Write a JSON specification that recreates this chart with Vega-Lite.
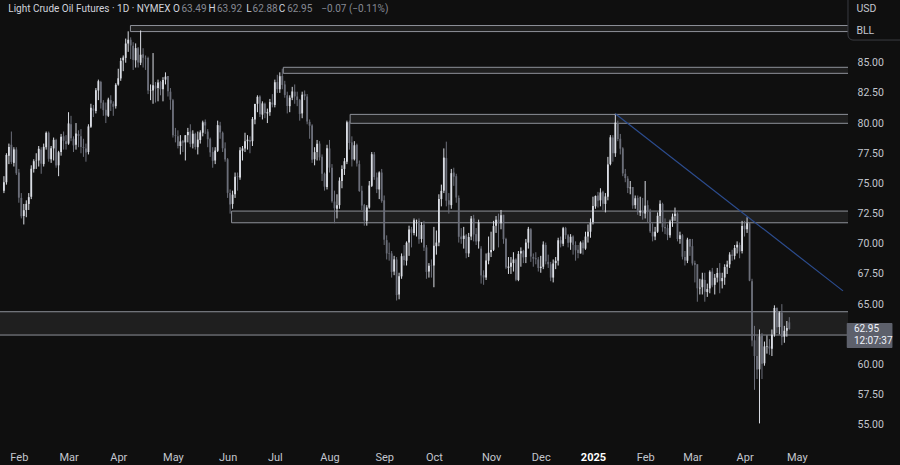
{
"$schema": "https://vega.github.io/schema/vega-lite/v6.json",
"width": 848, "height": 440,
"autosize": {"type": "none"},
"padding": {"left": 0, "top": 0, "right": 52, "bottom": 25},
"background": "#0f0f0f",
"config": {"view": {"stroke": null}, "axis": {"grid": false, "domain": false, "ticks": false, "labelFont": "Roboto", "labelFontSize": 10.5, "labelColor": "#c3c6ce", "labelOverlap": false}},
"datasets": {
"bars": [
{"d":"2024-01-24","o":74.4,"h":75.6,"l":74.2,"c":75.09},
{"d":"2024-01-25","o":75.1,"h":77.5,"l":74.9,"c":77.36},
{"d":"2024-01-26","o":77.3,"h":78.3,"l":76.6,"c":78.01},
{"d":"2024-01-29","o":78.2,"h":79.3,"l":76.6,"c":76.78},
{"d":"2024-01-30","o":76.7,"h":78.0,"l":76.4,"c":77.82},
{"d":"2024-01-31","o":77.8,"h":78.0,"l":75.7,"c":75.85},
{"d":"2024-02-01","o":75.9,"h":76.2,"l":73.4,"c":73.82},
{"d":"2024-02-02","o":73.8,"h":74.2,"l":72.1,"c":72.28},
{"d":"2024-02-05","o":72.3,"h":73.3,"l":71.6,"c":72.78},
{"d":"2024-02-06","o":72.8,"h":73.6,"l":72.2,"c":73.31},
{"d":"2024-02-07","o":73.3,"h":74.2,"l":72.8,"c":73.86},
{"d":"2024-02-08","o":73.9,"h":76.5,"l":73.7,"c":76.22},
{"d":"2024-02-09","o":76.2,"h":77.0,"l":75.9,"c":76.84},
{"d":"2024-02-12","o":76.9,"h":77.5,"l":76.2,"c":76.92},
{"d":"2024-02-13","o":76.9,"h":78.1,"l":76.4,"c":77.87},
{"d":"2024-02-14","o":77.8,"h":78.0,"l":75.8,"c":76.64},
{"d":"2024-02-15","o":76.6,"h":78.3,"l":76.4,"c":78.03},
{"d":"2024-02-16","o":78.0,"h":79.3,"l":77.8,"c":79.19},
{"d":"2024-02-20","o":79.2,"h":79.3,"l":76.8,"c":77.04},
{"d":"2024-02-21","o":77.0,"h":78.1,"l":76.7,"c":77.91},
{"d":"2024-02-22","o":77.9,"h":78.8,"l":76.9,"c":78.61},
{"d":"2024-02-23","o":78.6,"h":78.7,"l":76.3,"c":76.49},
{"d":"2024-02-26","o":76.5,"h":77.7,"l":75.6,"c":77.58},
{"d":"2024-02-27","o":77.6,"h":79.1,"l":77.3,"c":78.87},
{"d":"2024-02-28","o":78.9,"h":79.3,"l":77.8,"c":78.54},
{"d":"2024-02-29","o":78.5,"h":79.0,"l":77.8,"c":78.26},
{"d":"2024-03-01","o":78.3,"h":80.9,"l":78.2,"c":79.97},
{"d":"2024-03-04","o":79.9,"h":80.6,"l":78.5,"c":78.74},
{"d":"2024-03-05","o":78.7,"h":78.9,"l":77.6,"c":78.15},
{"d":"2024-03-06","o":78.2,"h":80.0,"l":77.8,"c":79.13},
{"d":"2024-03-07","o":79.1,"h":79.4,"l":78.0,"c":78.93},
{"d":"2024-03-08","o":78.9,"h":79.5,"l":77.5,"c":78.01},
{"d":"2024-03-11","o":78.0,"h":78.7,"l":77.2,"c":77.93},
{"d":"2024-03-12","o":77.9,"h":78.3,"l":76.8,"c":77.56},
{"d":"2024-03-13","o":77.6,"h":79.9,"l":77.4,"c":79.72},
{"d":"2024-03-14","o":79.7,"h":81.6,"l":79.6,"c":81.26},
{"d":"2024-03-15","o":81.2,"h":81.5,"l":80.5,"c":81.04},
{"d":"2024-03-18","o":81.0,"h":82.9,"l":80.8,"c":82.72},
{"d":"2024-03-19","o":82.7,"h":83.6,"l":81.9,"c":83.47},
{"d":"2024-03-20","o":83.4,"h":83.5,"l":81.2,"c":81.68},
{"d":"2024-03-21","o":81.7,"h":81.9,"l":80.6,"c":81.07},
{"d":"2024-03-22","o":81.1,"h":81.7,"l":80.0,"c":80.63},
{"d":"2024-03-25","o":80.6,"h":82.1,"l":80.5,"c":81.95},
{"d":"2024-03-26","o":81.9,"h":82.3,"l":81.0,"c":81.62},
{"d":"2024-03-27","o":81.6,"h":81.8,"l":80.6,"c":81.35},
{"d":"2024-03-28","o":81.4,"h":83.3,"l":81.2,"c":83.17},
{"d":"2024-04-01","o":83.2,"h":84.5,"l":83.1,"c":83.71},
{"d":"2024-04-02","o":83.7,"h":85.4,"l":83.5,"c":85.15},
{"d":"2024-04-03","o":85.2,"h":85.6,"l":84.3,"c":85.43},
{"d":"2024-04-04","o":85.4,"h":87.0,"l":85.0,"c":86.59},
{"d":"2024-04-05","o":86.6,"h":87.6,"l":85.9,"c":86.91},
{"d":"2024-04-08","o":86.9,"h":87.1,"l":85.3,"c":86.43},
{"d":"2024-04-09","o":86.4,"h":86.7,"l":84.4,"c":85.23},
{"d":"2024-04-10","o":85.2,"h":86.6,"l":84.6,"c":86.21},
{"d":"2024-04-11","o":86.2,"h":86.3,"l":84.6,"c":85.02},
{"d":"2024-04-12","o":85.0,"h":87.67,"l":84.8,"c":85.66},
{"d":"2024-04-15","o":85.7,"h":86.2,"l":84.6,"c":85.41},
{"d":"2024-04-16","o":85.4,"h":85.6,"l":84.4,"c":85.36},
{"d":"2024-04-17","o":85.4,"h":85.5,"l":82.4,"c":82.69},
{"d":"2024-04-18","o":82.7,"h":83.2,"l":81.9,"c":82.73},
{"d":"2024-04-19","o":82.7,"h":85.8,"l":81.6,"c":83.14},
{"d":"2024-04-22","o":83.1,"h":83.4,"l":81.7,"c":82.85},
{"d":"2024-04-23","o":82.9,"h":83.6,"l":81.8,"c":83.36},
{"d":"2024-04-24","o":83.4,"h":83.5,"l":82.3,"c":82.81},
{"d":"2024-04-25","o":82.8,"h":83.8,"l":81.8,"c":83.57},
{"d":"2024-04-26","o":83.6,"h":84.2,"l":83.2,"c":83.85},
{"d":"2024-04-29","o":83.9,"h":83.9,"l":82.2,"c":82.63},
{"d":"2024-04-30","o":82.6,"h":82.9,"l":81.1,"c":81.93},
{"d":"2024-05-01","o":81.9,"h":82.0,"l":78.8,"c":79.00},
{"d":"2024-05-02","o":79.0,"h":79.6,"l":78.4,"c":78.95},
{"d":"2024-05-03","o":78.9,"h":79.4,"l":77.9,"c":78.11},
{"d":"2024-05-06","o":78.1,"h":79.0,"l":77.4,"c":78.48},
{"d":"2024-05-07","o":78.5,"h":78.6,"l":77.6,"c":78.38},
{"d":"2024-05-08","o":78.4,"h":79.0,"l":76.9,"c":78.99},
{"d":"2024-05-09","o":79.0,"h":79.6,"l":78.4,"c":79.26},
{"d":"2024-05-10","o":79.3,"h":79.9,"l":78.0,"c":78.26},
{"d":"2024-05-13","o":78.3,"h":79.4,"l":77.9,"c":79.12},
{"d":"2024-05-14","o":79.1,"h":79.2,"l":77.8,"c":78.02},
{"d":"2024-05-15","o":78.0,"h":79.3,"l":77.4,"c":78.63},
{"d":"2024-05-16","o":78.6,"h":79.4,"l":78.3,"c":79.23},
{"d":"2024-05-17","o":79.2,"h":80.2,"l":78.9,"c":80.06},
{"d":"2024-05-20","o":80.1,"h":80.3,"l":79.1,"c":79.80},
{"d":"2024-05-21","o":79.3,"h":79.5,"l":78.0,"c":78.66},
{"d":"2024-05-22","o":78.7,"h":78.8,"l":77.2,"c":77.57},
{"d":"2024-05-23","o":77.6,"h":78.0,"l":76.3,"c":76.87},
{"d":"2024-05-24","o":76.9,"h":78.0,"l":76.6,"c":77.72},
{"d":"2024-05-28","o":77.7,"h":80.2,"l":77.6,"c":79.83},
{"d":"2024-05-29","o":79.8,"h":80.1,"l":78.7,"c":79.23},
{"d":"2024-05-30","o":79.2,"h":79.3,"l":77.6,"c":77.91},
{"d":"2024-05-31","o":77.9,"h":78.4,"l":76.8,"c":76.99},
{"d":"2024-06-03","o":77.0,"h":77.1,"l":73.8,"c":74.22},
{"d":"2024-06-04","o":74.2,"h":74.5,"l":72.5,"c":73.25},
{"d":"2024-06-05","o":73.3,"h":74.4,"l":72.9,"c":74.07},
{"d":"2024-06-06","o":74.1,"h":75.9,"l":73.8,"c":75.55},
{"d":"2024-06-07","o":75.6,"h":75.9,"l":74.4,"c":75.53},
{"d":"2024-06-10","o":75.5,"h":78.0,"l":75.3,"c":77.74},
{"d":"2024-06-11","o":77.7,"h":78.1,"l":76.9,"c":77.90},
{"d":"2024-06-12","o":77.9,"h":79.2,"l":77.6,"c":78.50},
{"d":"2024-06-13","o":78.5,"h":79.0,"l":77.8,"c":78.62},
{"d":"2024-06-14","o":78.6,"h":78.9,"l":77.5,"c":78.45},
{"d":"2024-06-17","o":78.5,"h":80.5,"l":78.1,"c":80.33},
{"d":"2024-06-18","o":80.3,"h":81.6,"l":79.9,"c":81.57},
{"d":"2024-06-20","o":81.6,"h":82.3,"l":80.9,"c":82.17},
{"d":"2024-06-21","o":82.2,"h":82.3,"l":80.5,"c":80.73},
{"d":"2024-06-24","o":80.7,"h":81.8,"l":80.3,"c":81.63},
{"d":"2024-06-25","o":81.6,"h":81.7,"l":80.4,"c":80.83},
{"d":"2024-06-26","o":80.8,"h":81.2,"l":80.0,"c":80.90},
{"d":"2024-06-27","o":80.9,"h":82.0,"l":80.6,"c":81.74},
{"d":"2024-06-28","o":81.7,"h":82.4,"l":81.3,"c":81.54},
{"d":"2024-07-01","o":81.5,"h":83.6,"l":81.3,"c":83.38},
{"d":"2024-07-02","o":83.4,"h":84.0,"l":82.5,"c":82.81},
{"d":"2024-07-03","o":82.8,"h":84.2,"l":82.5,"c":83.88},
{"d":"2024-07-05","o":83.9,"h":84.5,"l":82.8,"c":83.16},
{"d":"2024-07-08","o":83.2,"h":83.5,"l":82.1,"c":82.33},
{"d":"2024-07-09","o":82.3,"h":82.6,"l":80.8,"c":81.41},
{"d":"2024-07-10","o":81.4,"h":82.3,"l":80.9,"c":82.10},
{"d":"2024-07-11","o":82.1,"h":83.0,"l":81.9,"c":82.62},
{"d":"2024-07-12","o":82.6,"h":83.2,"l":81.6,"c":82.21},
{"d":"2024-07-15","o":82.2,"h":82.6,"l":81.4,"c":81.91},
{"d":"2024-07-16","o":81.9,"h":82.0,"l":80.2,"c":80.76},
{"d":"2024-07-17","o":80.8,"h":82.6,"l":80.4,"c":82.35},
{"d":"2024-07-18","o":82.4,"h":82.7,"l":81.9,"c":82.22},
{"d":"2024-07-19","o":82.2,"h":82.4,"l":79.9,"c":80.13},
{"d":"2024-07-22","o":80.1,"h":80.3,"l":78.7,"c":79.78},
{"d":"2024-07-23","o":79.8,"h":79.9,"l":76.7,"c":76.96},
{"d":"2024-07-24","o":77.0,"h":78.0,"l":76.5,"c":77.59},
{"d":"2024-07-25","o":77.6,"h":78.6,"l":76.9,"c":78.28},
{"d":"2024-07-26","o":78.3,"h":78.5,"l":76.9,"c":77.16},
{"d":"2024-07-29","o":77.2,"h":77.4,"l":75.2,"c":75.81},
{"d":"2024-07-30","o":75.8,"h":75.9,"l":74.4,"c":74.73},
{"d":"2024-07-31","o":74.7,"h":78.2,"l":74.5,"c":77.91},
{"d":"2024-08-01","o":77.9,"h":78.6,"l":75.9,"c":76.31},
{"d":"2024-08-02","o":76.3,"h":76.6,"l":73.4,"c":73.52},
{"d":"2024-08-05","o":73.5,"h":74.4,"l":71.7,"c":72.94},
{"d":"2024-08-06","o":72.9,"h":74.1,"l":72.1,"c":73.20},
{"d":"2024-08-07","o":73.2,"h":75.5,"l":72.9,"c":75.23},
{"d":"2024-08-08","o":75.2,"h":76.5,"l":74.6,"c":76.19},
{"d":"2024-08-09","o":76.2,"h":77.1,"l":75.7,"c":76.84},
{"d":"2024-08-12","o":76.8,"h":80.2,"l":76.6,"c":80.06},
{"d":"2024-08-13","o":80.1,"h":80.2,"l":77.8,"c":78.35},
{"d":"2024-08-14","o":78.4,"h":78.9,"l":76.4,"c":76.98},
{"d":"2024-08-15","o":77.0,"h":78.5,"l":76.9,"c":78.16},
{"d":"2024-08-16","o":78.2,"h":78.3,"l":76.4,"c":76.65},
{"d":"2024-08-19","o":76.6,"h":76.9,"l":74.3,"c":74.37},
{"d":"2024-08-20","o":74.4,"h":74.8,"l":72.8,"c":73.17},
{"d":"2024-08-21","o":73.2,"h":73.3,"l":71.5,"c":71.93},
{"d":"2024-08-22","o":71.9,"h":73.2,"l":71.5,"c":73.01},
{"d":"2024-08-23","o":73.0,"h":75.2,"l":72.9,"c":74.83},
{"d":"2024-08-26","o":74.8,"h":77.6,"l":74.7,"c":77.42},
{"d":"2024-08-27","o":77.4,"h":77.6,"l":75.3,"c":75.53},
{"d":"2024-08-28","o":75.5,"h":75.9,"l":74.2,"c":74.52},
{"d":"2024-08-29","o":74.5,"h":76.0,"l":73.7,"c":75.91},
{"d":"2024-08-30","o":75.9,"h":76.2,"l":73.4,"c":73.55},
{"d":"2024-09-03","o":73.6,"h":74.0,"l":69.9,"c":70.34},
{"d":"2024-09-04","o":70.3,"h":70.7,"l":68.7,"c":69.20},
{"d":"2024-09-05","o":69.2,"h":70.1,"l":68.6,"c":69.15},
{"d":"2024-09-06","o":69.2,"h":69.4,"l":67.2,"c":67.67},
{"d":"2024-09-09","o":67.7,"h":69.0,"l":67.4,"c":68.71},
{"d":"2024-09-10","o":68.7,"h":68.9,"l":65.3,"c":65.75},
{"d":"2024-09-11","o":65.8,"h":67.6,"l":65.4,"c":67.31},
{"d":"2024-09-12","o":67.3,"h":69.2,"l":67.1,"c":68.97},
{"d":"2024-09-13","o":69.0,"h":69.9,"l":68.2,"c":68.65},
{"d":"2024-09-16","o":68.6,"h":70.2,"l":68.2,"c":70.09},
{"d":"2024-09-17","o":70.1,"h":71.5,"l":69.0,"c":71.19},
{"d":"2024-09-18","o":71.2,"h":71.4,"l":69.7,"c":70.91},
{"d":"2024-09-19","o":70.9,"h":72.1,"l":70.7,"c":71.95},
{"d":"2024-09-20","o":71.9,"h":72.0,"l":70.6,"c":71.92},
{"d":"2024-09-23","o":71.9,"h":72.1,"l":70.0,"c":70.37},
{"d":"2024-09-24","o":70.4,"h":71.8,"l":70.1,"c":71.56},
{"d":"2024-09-25","o":71.6,"h":71.9,"l":69.4,"c":69.69},
{"d":"2024-09-26","o":69.7,"h":69.9,"l":67.1,"c":67.67},
{"d":"2024-09-27","o":67.7,"h":68.4,"l":67.2,"c":68.18},
{"d":"2024-09-30","o":68.2,"h":68.7,"l":67.2,"c":68.17},
{"d":"2024-10-01","o":68.2,"h":71.4,"l":66.4,"c":69.83},
{"d":"2024-10-02","o":69.8,"h":71.1,"l":69.1,"c":70.10},
{"d":"2024-10-03","o":70.1,"h":74.1,"l":69.8,"c":73.71},
{"d":"2024-10-04","o":73.7,"h":74.9,"l":73.1,"c":74.38},
{"d":"2024-10-07","o":74.4,"h":77.9,"l":74.2,"c":77.14},
{"d":"2024-10-08","o":77.1,"h":78.46,"l":73.1,"c":73.57},
{"d":"2024-10-09","o":73.6,"h":74.2,"l":72.5,"c":73.24},
{"d":"2024-10-10","o":73.2,"h":76.2,"l":72.9,"c":75.85},
{"d":"2024-10-11","o":75.9,"h":76.3,"l":74.8,"c":75.56},
{"d":"2024-10-14","o":75.6,"h":75.8,"l":73.4,"c":73.83},
{"d":"2024-10-15","o":73.8,"h":74.0,"l":70.1,"c":70.58},
{"d":"2024-10-16","o":70.6,"h":71.3,"l":70.0,"c":70.39},
{"d":"2024-10-17","o":70.4,"h":71.4,"l":69.6,"c":70.67},
{"d":"2024-10-18","o":70.7,"h":70.8,"l":68.8,"c":69.22},
{"d":"2024-10-21","o":69.2,"h":70.9,"l":68.9,"c":70.56},
{"d":"2024-10-22","o":70.6,"h":72.3,"l":70.3,"c":72.09},
{"d":"2024-10-23","o":72.1,"h":72.4,"l":70.2,"c":70.77},
{"d":"2024-10-24","o":70.8,"h":71.3,"l":69.9,"c":70.19},
{"d":"2024-10-25","o":70.2,"h":72.0,"l":69.6,"c":71.78},
{"d":"2024-10-28","o":69.6,"h":69.8,"l":66.7,"c":67.38},
{"d":"2024-10-29","o":67.4,"h":67.8,"l":66.6,"c":67.21},
{"d":"2024-10-30","o":67.2,"h":69.2,"l":67.0,"c":68.61},
{"d":"2024-10-31","o":68.6,"h":70.6,"l":68.3,"c":69.26},
{"d":"2024-11-01","o":69.3,"h":71.0,"l":68.9,"c":69.49},
{"d":"2024-11-04","o":69.5,"h":71.9,"l":69.4,"c":71.47},
{"d":"2024-11-05","o":71.5,"h":72.3,"l":70.9,"c":71.99},
{"d":"2024-11-06","o":72.0,"h":72.5,"l":69.7,"c":71.69},
{"d":"2024-11-07","o":71.7,"h":72.8,"l":71.2,"c":72.36},
{"d":"2024-11-08","o":72.4,"h":72.4,"l":70.0,"c":70.38},
{"d":"2024-11-11","o":70.4,"h":70.5,"l":67.9,"c":68.04},
{"d":"2024-11-12","o":68.0,"h":68.9,"l":67.5,"c":68.12},
{"d":"2024-11-13","o":68.1,"h":68.9,"l":67.5,"c":68.43},
{"d":"2024-11-14","o":68.4,"h":69.3,"l":67.7,"c":68.70},
{"d":"2024-11-15","o":68.7,"h":68.8,"l":66.9,"c":67.02},
{"d":"2024-11-18","o":67.0,"h":69.4,"l":66.9,"c":69.16},
{"d":"2024-11-19","o":69.2,"h":69.7,"l":68.1,"c":69.39},
{"d":"2024-11-20","o":69.4,"h":69.5,"l":68.4,"c":68.87},
{"d":"2024-11-21","o":68.9,"h":70.4,"l":68.4,"c":70.10},
{"d":"2024-11-22","o":70.1,"h":71.4,"l":69.6,"c":71.24},
{"d":"2024-11-25","o":71.2,"h":71.3,"l":68.5,"c":68.94},
{"d":"2024-11-26","o":68.9,"h":69.2,"l":68.1,"c":68.77},
{"d":"2024-11-27","o":68.8,"h":69.3,"l":68.3,"c":68.72},
{"d":"2024-11-29","o":68.7,"h":68.9,"l":67.7,"c":68.00},
{"d":"2024-12-02","o":68.0,"h":69.0,"l":67.6,"c":68.10},
{"d":"2024-12-03","o":68.1,"h":70.2,"l":67.9,"c":69.94},
{"d":"2024-12-04","o":69.9,"h":70.1,"l":68.3,"c":68.54},
{"d":"2024-12-05","o":68.5,"h":69.1,"l":68.0,"c":68.30},
{"d":"2024-12-06","o":68.3,"h":68.5,"l":66.9,"c":67.20},
{"d":"2024-12-09","o":67.2,"h":68.7,"l":66.8,"c":68.37},
{"d":"2024-12-10","o":68.4,"h":68.9,"l":67.9,"c":68.59},
{"d":"2024-12-11","o":68.6,"h":70.5,"l":68.2,"c":70.29},
{"d":"2024-12-12","o":70.3,"h":70.6,"l":69.7,"c":70.02},
{"d":"2024-12-13","o":70.0,"h":71.4,"l":69.8,"c":71.29},
{"d":"2024-12-16","o":71.3,"h":71.4,"l":70.4,"c":70.71},
{"d":"2024-12-17","o":70.7,"h":70.8,"l":69.7,"c":70.08},
{"d":"2024-12-18","o":70.1,"h":70.8,"l":69.5,"c":70.58},
{"d":"2024-12-19","o":70.6,"h":70.7,"l":69.1,"c":69.91},
{"d":"2024-12-20","o":69.9,"h":70.2,"l":68.6,"c":69.46},
{"d":"2024-12-23","o":69.5,"h":69.9,"l":68.8,"c":69.24},
{"d":"2024-12-24","o":69.2,"h":70.2,"l":69.2,"c":70.10},
{"d":"2024-12-26","o":70.1,"h":70.3,"l":69.1,"c":69.62},
{"d":"2024-12-27","o":69.6,"h":71.0,"l":69.5,"c":70.60},
{"d":"2024-12-30","o":70.6,"h":71.6,"l":70.1,"c":70.99},
{"d":"2024-12-31","o":71.0,"h":72.1,"l":70.5,"c":71.72},
{"d":"2025-01-02","o":71.8,"h":73.9,"l":71.6,"c":73.13},
{"d":"2025-01-03","o":73.1,"h":74.0,"l":72.9,"c":73.96},
{"d":"2025-01-06","o":74.0,"h":74.3,"l":73.0,"c":73.56},
{"d":"2025-01-07","o":73.6,"h":74.6,"l":73.1,"c":74.25},
{"d":"2025-01-08","o":74.3,"h":74.4,"l":72.8,"c":73.32},
{"d":"2025-01-09","o":73.3,"h":74.2,"l":72.6,"c":73.92},
{"d":"2025-01-10","o":73.9,"h":77.2,"l":73.6,"c":76.57},
{"d":"2025-01-13","o":76.6,"h":79.0,"l":76.5,"c":78.82},
{"d":"2025-01-14","o":78.8,"h":79.0,"l":76.8,"c":77.50},
{"d":"2025-01-15","o":77.5,"h":80.77,"l":77.2,"c":80.04},
{"d":"2025-01-16","o":80.0,"h":80.2,"l":78.5,"c":78.68},
{"d":"2025-01-17","o":78.7,"h":79.1,"l":77.4,"c":77.88},
{"d":"2025-01-21","o":77.9,"h":78.0,"l":75.6,"c":75.83},
{"d":"2025-01-22","o":75.8,"h":76.2,"l":75.1,"c":75.44},
{"d":"2025-01-23","o":75.4,"h":75.6,"l":74.2,"c":74.62},
{"d":"2025-01-24","o":74.6,"h":75.2,"l":74.1,"c":74.66},
{"d":"2025-01-27","o":74.7,"h":74.7,"l":72.9,"c":73.17},
{"d":"2025-01-28","o":73.2,"h":74.0,"l":72.9,"c":73.77},
{"d":"2025-01-29","o":73.8,"h":74.0,"l":72.4,"c":72.62},
{"d":"2025-01-30","o":72.6,"h":73.9,"l":72.3,"c":72.73},
{"d":"2025-01-31","o":72.7,"h":73.8,"l":72.0,"c":72.53},
{"d":"2025-02-03","o":72.5,"h":75.2,"l":72.1,"c":73.16},
{"d":"2025-02-04","o":73.2,"h":73.6,"l":71.8,"c":72.70},
{"d":"2025-02-05","o":72.7,"h":72.9,"l":70.9,"c":71.03},
{"d":"2025-02-06","o":71.0,"h":71.7,"l":70.2,"c":70.61},
{"d":"2025-02-07","o":70.6,"h":71.4,"l":70.3,"c":71.00},
{"d":"2025-02-10","o":71.0,"h":72.6,"l":70.9,"c":72.32},
{"d":"2025-02-11","o":72.3,"h":73.6,"l":71.7,"c":73.32},
{"d":"2025-02-12","o":73.3,"h":73.4,"l":71.0,"c":71.37},
{"d":"2025-02-13","o":71.4,"h":72.1,"l":70.8,"c":71.29},
{"d":"2025-02-14","o":71.3,"h":71.6,"l":70.3,"c":70.74},
{"d":"2025-02-18","o":70.7,"h":72.0,"l":70.5,"c":71.85},
{"d":"2025-02-19","o":71.9,"h":72.5,"l":71.4,"c":72.25},
{"d":"2025-02-20","o":72.3,"h":73.0,"l":71.9,"c":72.48},
{"d":"2025-02-21","o":72.5,"h":72.6,"l":70.2,"c":70.40},
{"d":"2025-02-24","o":70.4,"h":71.0,"l":70.0,"c":70.70},
{"d":"2025-02-25","o":70.7,"h":70.8,"l":68.7,"c":68.93},
{"d":"2025-02-26","o":68.9,"h":69.4,"l":68.2,"c":68.62},
{"d":"2025-02-27","o":68.6,"h":70.5,"l":68.4,"c":70.35},
{"d":"2025-02-28","o":70.4,"h":70.4,"l":69.0,"c":69.76},
{"d":"2025-03-03","o":69.8,"h":70.4,"l":68.2,"c":68.37},
{"d":"2025-03-04","o":68.4,"h":68.6,"l":66.8,"c":68.26},
{"d":"2025-03-05","o":68.3,"h":68.3,"l":65.2,"c":66.31},
{"d":"2025-03-06","o":66.3,"h":67.1,"l":65.8,"c":66.36},
{"d":"2025-03-07","o":66.4,"h":67.6,"l":65.8,"c":67.04},
{"d":"2025-03-10","o":67.0,"h":67.6,"l":65.2,"c":66.03},
{"d":"2025-03-11","o":66.0,"h":66.7,"l":65.6,"c":66.25},
{"d":"2025-03-12","o":66.3,"h":67.8,"l":65.9,"c":67.68},
{"d":"2025-03-13","o":67.7,"h":68.0,"l":66.4,"c":66.55},
{"d":"2025-03-14","o":66.6,"h":67.5,"l":65.8,"c":67.18},
{"d":"2025-03-17","o":67.2,"h":68.0,"l":66.8,"c":67.58},
{"d":"2025-03-18","o":67.6,"h":68.4,"l":65.9,"c":66.90},
{"d":"2025-03-19","o":66.9,"h":67.6,"l":66.3,"c":67.16},
{"d":"2025-03-20","o":67.2,"h":68.3,"l":66.6,"c":68.07},
{"d":"2025-03-21","o":68.1,"h":68.6,"l":67.5,"c":68.28},
{"d":"2025-03-24","o":68.3,"h":69.3,"l":68.0,"c":69.11},
{"d":"2025-03-25","o":69.1,"h":69.5,"l":68.6,"c":69.00},
{"d":"2025-03-26","o":69.0,"h":69.9,"l":68.7,"c":69.65},
{"d":"2025-03-27","o":69.7,"h":70.2,"l":69.2,"c":69.92},
{"d":"2025-03-28","o":69.9,"h":70.1,"l":68.8,"c":69.36},
{"d":"2025-03-31","o":69.4,"h":71.9,"l":69.2,"c":71.48},
{"d":"2025-04-01","o":71.5,"h":71.9,"l":70.6,"c":71.20},
{"d":"2025-04-02","o":71.2,"h":72.2,"l":70.9,"c":71.71},
{"d":"2025-04-03","o":71.7,"h":71.8,"l":66.9,"c":66.95},
{"d":"2025-04-04","o":66.9,"h":67.1,"l":61.5,"c":61.99},
{"d":"2025-04-07","o":62.0,"h":63.2,"l":57.9,"c":60.70},
{"d":"2025-04-08","o":60.7,"h":62.4,"l":58.8,"c":59.58},
{"d":"2025-04-09","o":59.6,"h":62.9,"l":55.12,"c":62.35},
{"d":"2025-04-10","o":62.4,"h":62.6,"l":58.8,"c":60.07},
{"d":"2025-04-11","o":60.1,"h":61.9,"l":59.9,"c":61.50},
{"d":"2025-04-14","o":61.5,"h":62.4,"l":60.9,"c":61.53},
{"d":"2025-04-15","o":61.5,"h":62.1,"l":60.8,"c":61.33},
{"d":"2025-04-16","o":61.3,"h":62.9,"l":60.7,"c":62.47},
{"d":"2025-04-17","o":62.5,"h":64.9,"l":62.3,"c":64.68},
{"d":"2025-04-21","o":64.7,"h":64.7,"l":62.6,"c":63.08},
{"d":"2025-04-22","o":63.1,"h":64.4,"l":62.5,"c":64.31},
{"d":"2025-04-23","o":64.3,"h":65.0,"l":61.6,"c":62.27},
{"d":"2025-04-24","o":62.3,"h":63.2,"l":61.8,"c":62.79},
{"d":"2025-04-25","o":62.8,"h":63.6,"l":62.3,"c":63.02},
{"d":"2025-04-28","o":63.49,"h":63.92,"l":62.88,"c":62.95}
],
"zones": [
{"x1":51.9,"x2":345,"lo":87.58,"hi":88.08},
{"x1":113.4,"x2":345,"lo":84.12,"hi":84.62},
{"x1":140.3,"x2":345,"lo":79.98,"hi":80.72},
{"x1":92.6,"x2":345,"lo":71.74,"hi":72.71},
{"x1":-5,"x2":345,"lo":62.44,"hi":64.37}
],
"trend": [
{"i":247,"p":80.77},
{"i":338.6,"p":66.1}
],
"header": [
{"t":"Light Crude Oil Futures · 1D · NYMEX","i":2.75,"k":"name"},
{"t":"O","i":69.03,"k":"key"},
{"t":"63.49","i":72.41,"k":"val"},
{"t":"H","i":83.34,"k":"key"},
{"t":"63.92","i":86.72,"k":"val"},
{"t":"L","i":98.45,"k":"key"},
{"t":"62.88","i":101.04,"k":"val"},
{"t":"C","i":111.57,"k":"key"},
{"t":"62.95","i":114.95,"k":"val"},
{"t":"−0.07 (−0.11%)","i":128.67,"k":"val"}
],
"unitbox": [{"x1":340.6,"x2":365,"lo":86.88,"hi":91}],
"units": [{"t":"USD","i":344,"p":89.45},{"t":"BLL","i":344,"p":87.63}],
"lastbox": [{"x1":340.1,"x2":358.5,"lo":61.36,"hi":63.43}],
"last": [{"t":"62.95","i":343,"p":62.98},{"t":"12:07:37","i":343,"p":61.98}]
},
"layer": [
{
"data": {"name": "zones"},
"mark": {"type": "rect", "fill": "#ffffff", "fillOpacity": 0.07, "stroke": "#8e9199", "strokeWidth": 1, "clip": true},
"encoding": {
"x": {"field": "x1", "type": "quantitative", "title": null, "scale": {"domain": [1.433, 338.6], "nice": false, "zero": false}, "axis": {"orient": "bottom", "title": null, "labelOverlap": false, "values": [7,27,47,69,91,110,132,154,174,197,217,238,259,278,299,320], "labelExpr": "['Feb','Mar','Apr','May','Jun','Jul','Aug','Sep','Oct','Nov','Dec','2025','Feb','Mar','Apr','May'][indexof([7,27,47,69,91,110,132,154,174,197,217,238,259,278,299,320], datum.value)]", "labelPadding": 11, "labelFontSize": 11, "labelFontWeight": {"condition": {"test": "datum.value == 238", "value": "bold"}, "value": "normal"}, "labelColor": {"condition": {"test": "datum.value == 238", "value": "#ffffff"}, "value": "#c3c6ce"}}},
"x2": {"field": "x2"},
"y": {"field": "lo", "type": "quantitative", "title": null, "scale": {"domain": [53.745, 90.195], "nice": false, "zero": false}, "axis": {"orient": "right", "title": null, "labelOverlap": false, "tickCount": 13, "values": [55,57.5,60,65,67.5,70,72.5,75,77.5,80,82.5,85], "format": ".2f", "labelPadding": 9, "labelFontSize": 10.5}},
"y2": {"field": "hi"}
}
},
{
"data": {"name": "bars"},
"transform": [{"window": [{"op": "row_number", "as": "i"}], "sort": [{"field": "d", "order": "ascending"}]}],
"encoding": {
"x": {"field": "i", "type": "quantitative", "title": null, "scale": {"domain": [1.433, 338.6], "nice": false, "zero": false}},
"color": {"condition": {"test": "datum.c >= datum.o", "value": "#dadde4"}, "value": "#6b6e79"}
},
"layer": [
{"mark": {"type": "rule", "strokeWidth": 1, "clip": true},
 "encoding": {"y": {"field": "l", "type": "quantitative", "title": null, "scale": {"domain": [53.745, 90.195], "nice": false, "zero": false}}, "y2": {"field": "h"}}},
{"mark": {"type": "bar", "size": 1.8, "clip": true},
 "encoding": {"y": {"field": "o", "type": "quantitative", "title": null, "scale": {"domain": [53.745, 90.195], "nice": false, "zero": false}}, "y2": {"field": "c"}}}
]
},
{
"data": {"name": "trend"},
"mark": {"type": "line", "stroke": "#2c4c8e", "strokeWidth": 1.2, "clip": true},
"encoding": {
"x": {"field": "i", "type": "quantitative", "title": null, "scale": {"domain": [1.433, 338.6], "nice": false, "zero": false}},
"y": {"field": "p", "type": "quantitative", "title": null, "scale": {"domain": [53.745, 90.195], "nice": false, "zero": false}}
}
},
{
"data": {"name": "header"},
"mark": {"type": "text", "align": "left", "baseline": "middle", "font": "Roboto", "fontSize": 10},
"encoding": {
"x": {"field": "i", "type": "quantitative", "title": null, "scale": {"domain": [1.433, 338.6], "nice": false, "zero": false}},
"y": {"datum": 89.45, "type": "quantitative", "title": null, "scale": {"domain": [53.745, 90.195], "nice": false, "zero": false}},
"text": {"field": "t"},
"color": {"field": "k", "type": "nominal", "scale": {"domain": ["name","key","val"], "range": ["#d1d4dc","#d1d4dc","#868993"]}, "legend": null}
}
},
{
"data": {"name": "unitbox"},
"mark": {"type": "rect", "fill": "#0f0f0f", "stroke": "#3a3c42", "strokeWidth": 1, "cornerRadius": 5},
"encoding": {
"x": {"field": "x1", "type": "quantitative", "title": null, "scale": {"domain": [1.433, 338.6], "nice": false, "zero": false}},
"x2": {"field": "x2"},
"y": {"field": "lo", "type": "quantitative", "title": null, "scale": {"domain": [53.745, 90.195], "nice": false, "zero": false}},
"y2": {"field": "hi"}
}
},
{
"data": {"name": "units"},
"mark": {"type": "text", "align": "left", "baseline": "middle", "font": "Roboto", "fontSize": 10.5, "color": "#c3c6ce"},
"encoding": {
"x": {"field": "i", "type": "quantitative", "title": null, "scale": {"domain": [1.433, 338.6], "nice": false, "zero": false}},
"y": {"field": "p", "type": "quantitative", "title": null, "scale": {"domain": [53.745, 90.195], "nice": false, "zero": false}},
"text": {"field": "t"}
}
},
{
"data": {"name": "lastbox"},
"mark": {"type": "rect", "fill": "#5d606b", "cornerRadius": 1},
"encoding": {
"x": {"field": "x1", "type": "quantitative", "title": null, "scale": {"domain": [1.433, 338.6], "nice": false, "zero": false}},
"x2": {"field": "x2"},
"y": {"field": "lo", "type": "quantitative", "title": null, "scale": {"domain": [53.745, 90.195], "nice": false, "zero": false}},
"y2": {"field": "hi"}
}
},
{
"data": {"name": "last"},
"mark": {"type": "text", "align": "left", "baseline": "middle", "font": "Roboto", "fontSize": 10, "color": "#f0f3fa"},
"encoding": {
"x": {"field": "i", "type": "quantitative", "title": null, "scale": {"domain": [1.433, 338.6], "nice": false, "zero": false}},
"y": {"field": "p", "type": "quantitative", "title": null, "scale": {"domain": [53.745, 90.195], "nice": false, "zero": false}},
"text": {"field": "t"}
}
}
]
}
